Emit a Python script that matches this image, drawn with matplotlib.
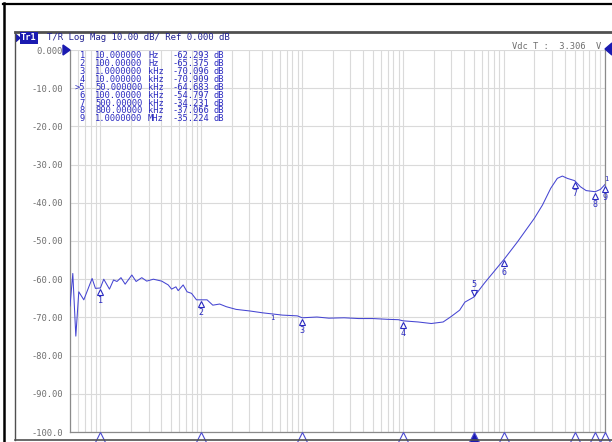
import matplotlib
matplotlib.use("Agg")
import matplotlib.pyplot as plt
from matplotlib.ticker import LogLocator, NullFormatter, FixedLocator
from matplotlib.lines import Line2D
from matplotlib.patches import Polygon
import matplotlib.transforms as mtransforms

# ---------------- data ----------------
freq = [5.0, 5.33, 5.71, 6.11, 6.85, 8.28, 8.93, 10.0, 10.8, 12.3, 13.5, 14.6,
        16.0, 17.6, 20.5, 22.6, 25.7, 28.8, 33.5, 40.5, 47.0, 50.8, 56.0, 59.0,
        66.1, 72.3, 80.0, 89.6, 100, 114, 130, 152, 177, 221, 299, 405, 508,
        637, 895, 1000, 1400, 1840, 2600, 3620, 5000, 7000, 8970, 10000, 14100,
        19000, 24900, 29800, 36300, 40900, 50000, 64000, 100000, 136000,
        199000, 240000, 290000, 337000, 378000, 423000, 500000, 571000,
        650000, 800000, 900000, 1000000]
mag = [-67.0, -58.5, -74.9, -63.3, -65.4, -59.8, -62.4, -62.3, -60.0, -62.6,
       -60.2, -60.6, -59.6, -61.3, -58.9, -60.6, -59.6, -60.5, -60.0, -60.5,
       -61.5, -62.6, -62.0, -63.0, -61.5, -63.3, -63.7, -65.4, -65.4, -65.4,
       -66.8, -66.5, -67.2, -67.9, -68.3, -68.8, -69.1, -69.4, -69.6, -70.1,
       -69.9, -70.2, -70.1, -70.3, -70.3, -70.5, -70.6, -70.9, -71.2, -71.6,
       -71.2, -69.8, -68.1, -66.0, -64.7, -61.0, -54.8, -50.2, -44.1, -40.6,
       -36.2, -33.6, -33.0, -33.6, -34.2, -35.8, -36.8, -37.1, -36.5, -35.2]

marker_ids = ["1", "2", "3", "4", "5", "6", "7", "8", "9"]
marker_freq = [10, 100, 1000, 10000, 50000, 100000, 500000, 800000, 1000000]
marker_val = [-62.293, -65.375, -70.096, -70.909, -64.683, -54.797, -34.231,
              -37.066, -35.224]
marker_freq_txt = ["10.000000", "100.00000", "1.0000000", "10.000000",
                   "50.000000", "100.00000", "500.00000", "800.00000",
                   "1.0000000"]
marker_unit = ["Hz", "Hz", "kHz", "kHz", "kHz", "kHz", "kHz", "kHz", "MHz"]
active_marker = "5"

yticks = [0, -10, -20, -30, -40, -50, -60, -70, -80, -90, -100]
ytick_labels = ["0.000", "-10.00", "-20.00", "-30.00", "-40.00", "-50.00",
                "-60.00", "-70.00", "-80.00", "-90.00", "-100.0"]
header = "T/R Log Mag 10.00 dB/ Ref 0.000 dB"
vdc_text = "Vdc T :  3.306  V"

# ---------------- style ----------------
W, H = 612, 442
TRACE = "#4545d2"
MK = "#2a2ac0"
GRID = "#dadada"
LBL = "#6e6e6e"
MONO = "DejaVu Sans Mono"

fig = plt.figure(figsize=(W / 100, H / 100), dpi=100)
fig.patch.set_facecolor("white")

def fx(x):
    return x / W

def fy(y):
    return 1 - y / H

# frames
fig.add_artist(Line2D([fx(3), fx(612)], [fy(3.5), fy(3.5)], color="black", lw=1.6))
fig.add_artist(Line2D([fx(4), fx(4)], [fy(3), fy(442)], color="black", lw=1.8))
fig.add_artist(Line2D([fx(15), fx(612)], [fy(32), fy(32)], color="#505050", lw=2.0))
fig.add_artist(Line2D([fx(15), fx(15)], [fy(32), fy(440)], color="#505050", lw=1.0))
fig.add_artist(Line2D([fx(15), fx(612)], [fy(439.5), fy(439.5)], color="#505050", lw=1.2))

ax = fig.add_axes([fx(70), fy(432), fx(605) - fx(70), fy(50) - fy(432)])
ax.set_xscale("log")
ax.set_xlim(5, 1e6)
ax.set_ylim(-100, 0)
ax.set_facecolor("white")

ax.xaxis.set_major_locator(LogLocator(base=10, numticks=20))
ax.xaxis.set_minor_locator(LogLocator(base=10, subs=range(2, 10), numticks=100))
ax.xaxis.set_major_formatter(NullFormatter())
ax.xaxis.set_minor_formatter(NullFormatter())
ax.yaxis.set_major_locator(FixedLocator(yticks))
ax.set_yticklabels(ytick_labels, fontsize=6.3, family=MONO, color=LBL)
ax.tick_params(axis="both", which="both", length=0, pad=5)
ax.grid(True, which="both", axis="x", color=GRID, lw=0.8)
ax.grid(True, which="major", axis="y", color=GRID, lw=0.8)
for s in ax.spines.values():
    s.set_color("#8a8a8a")
    s.set_linewidth(0.9)
ax.spines["top"].set_visible(False)

# trace
ax.plot(freq, mag, color=TRACE, lw=0.75, zorder=3)

# markers on trace
down = mtransforms.offset_copy(ax.transData, fig=fig, x=0, y=-3.0, units="points")
up = mtransforms.offset_copy(ax.transData, fig=fig, x=0, y=3.0, units="points")
for mid, f, v in zip(marker_ids, marker_freq, marker_val):
    if mid == active_marker:
        ax.plot([f], [v], marker="v", ms=5, mfc="white", mec=MK, mew=0.8,
                transform=up, zorder=4, clip_on=False)
        ax.annotate(mid, (f, v), xytext=(0, 6), textcoords="offset points",
                    ha="center", va="bottom", fontsize=6, color=MK, family=MONO)
    else:
        ax.plot([f], [v], marker="^", ms=5, mfc="white", mec=MK, mew=0.8,
                transform=down, zorder=4, clip_on=False)
        ax.annotate(mid, (f, v), xytext=(0, -6), textcoords="offset points",
                    ha="center", va="top", fontsize=6, color=MK, family=MONO)

# small reference ticks seen on the trace
ax.annotate("1", (500, -69.1), xytext=(0, -1), textcoords="offset points",
            ha="center", va="top", fontsize=5, color=MK, family=MONO)
ax.annotate("1", (1000000, -35.2), xytext=(1, 2), textcoords="offset points",
            ha="center", va="bottom", fontsize=5, color=MK, family=MONO,
            annotation_clip=False)

# bottom marker triangles
bot = mtransforms.offset_copy(ax.transData, fig=fig, x=0, y=-3.6, units="points")
for mid, f in zip(marker_ids, marker_freq):
    filled = mid == active_marker
    ax.plot([f], [-100], marker="^", ms=6.5,
            mfc="#1a1ab0" if filled else "white", mec="#4a4ad0", mew=0.8,
            transform=bot, clip_on=False, zorder=5)

# marker table
rows_y0 = 56
row_h = 7.85
for i, (mid, ftxt, unit, v) in enumerate(zip(marker_ids, marker_freq_txt,
                                             marker_unit, marker_val)):
    y = rows_y0 + i * row_h
    lab = (">" + mid) if mid == active_marker else mid
    fig.text(fx(85), fy(y), lab, ha="right", va="center", fontsize=6.3,
             family=MONO, color=MK)
    fig.text(fx(95), fy(y), ftxt, ha="left", va="center", fontsize=6.3,
             family=MONO, color=MK)
    fig.text(fx(148), fy(y), unit, ha="left", va="center", fontsize=6.3,
             family=MONO, color=MK)
    fig.text(fx(172), fy(y), "%.3f" % v, ha="left", va="center", fontsize=6.3,
             family=MONO, color=MK)
    fig.text(fx(214), fy(y), "dB", ha="left", va="center", fontsize=6.3,
             family=MONO, color=MK)

# header
fig.add_artist(Polygon([[fx(16), fy(34.5)], [fx(16), fy(41.5)], [fx(20), fy(38)]],
                       closed=True, color="#1a1ab0"))
fig.text(fx(21), fy(38), "Tr1", ha="left", va="center", fontsize=6.3,
         family=MONO, color="white", fontweight="bold",
         bbox=dict(boxstyle="square,pad=0.12", fc="#1a1ab0", ec="none"))
fig.text(fx(47), fy(38), header, ha="left", va="center", fontsize=6.5,
         family=MONO, color="#202090")
fig.text(fx(601), fy(46.5), vdc_text, ha="right", va="center", fontsize=6.3,
         family=MONO, color=LBL)

# reference-level arrows
fig.add_artist(Polygon([[fx(63), fy(45)], [fx(63), fy(55)], [fx(70), fy(50)]],
                       closed=True, color="#1a1ab0"))
fig.add_artist(Polygon([[fx(612), fy(43)], [fx(612), fy(55)], [fx(605), fy(49)]],
                       closed=True, color="#1a1ab0"))

fig.savefig("out.png", dpi=100)
